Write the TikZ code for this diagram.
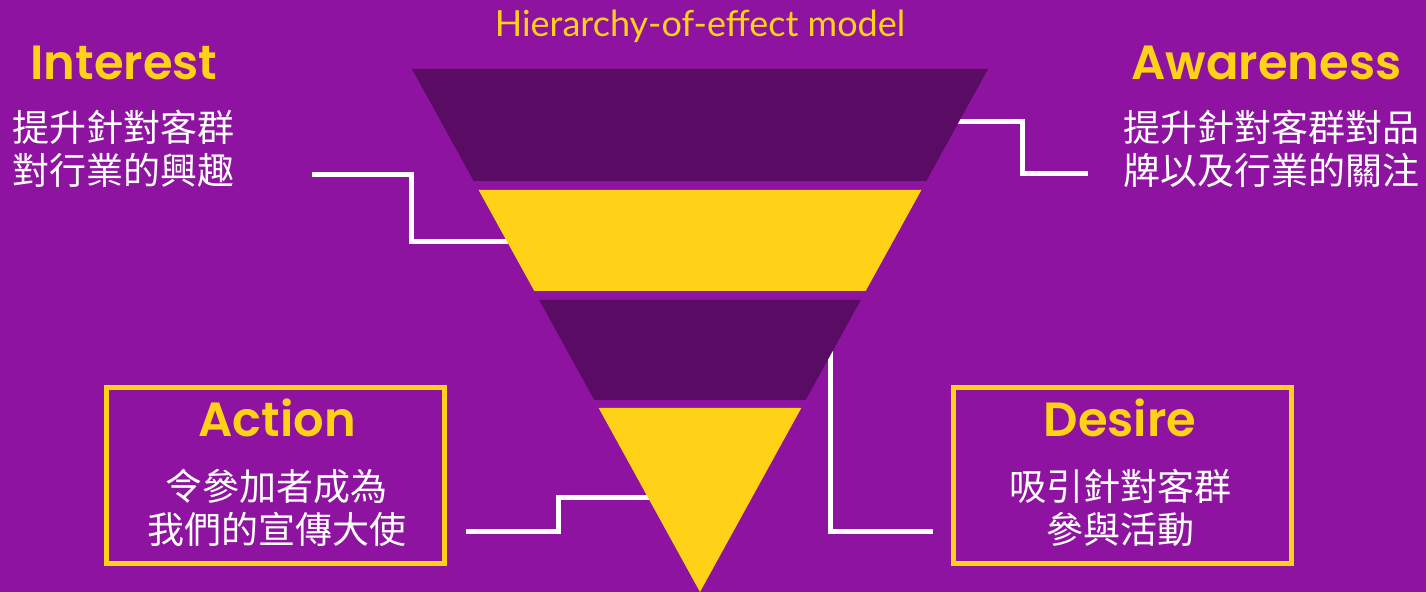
\documentclass[tikz,border=0pt]{standalone}
\usepackage{fontspec}
\setmainfont{Poppins}
\newfontfamily\cjk{Noto Sans CJK TC}
\newfontfamily\headfont{Poppins SemiBold}
\newfontfamily\titlefont{Lato}
\definecolor{bg}{HTML}{8E13A0}
\definecolor{darkband}{HTML}{5A0B64}
\definecolor{gold}{HTML}{FFD117}
\begin{document}
\begin{tikzpicture}[x=0.5pt,y=-0.5pt,
  head/.style={text=gold, font=\headfont\fontsize{24}{28}\selectfont, inner sep=0pt},
  body/.style={text=white, font=\cjk\fontsize{18.5}{21.5}\selectfont, inner sep=0pt},
  link/.style={white, line width=2.5pt},
  framebox/.style={draw=gold, line width=2.5pt, minimum width=169pt, minimum height=88pt, inner sep=0pt}]
\useasboundingbox[fill=bg] (0,0) rectangle (1426,592);
% connectors (behind funnel)
\coordinate (iA) at (312,175); \coordinate (iK) at (411,210); \coordinate (iB) at (515,242);
\coordinate (aA) at (950,122); \coordinate (aK) at (1022,150); \coordinate (aB) at (1088,174);
\coordinate (dA) at (830,338); \coordinate (dB) at (933,532);
\coordinate (cA) at (466,532); \coordinate (cK) at (558,515); \coordinate (cB) at (660,498);
\draw[link] (iA) -| (iK) |- (iB);
\draw[link] (aA) -| (aK) |- (aB);
\draw[link] (dA) |- (dB);
\draw[link] (cA) -| (cK) |- (cB);
% funnel
\fill[darkband] (412,69) -- (988,69) -- (926.3,181) -- (473.7,181) -- cycle;
\fill[gold] (478.6,190) -- (921.4,190) -- (865.7,291) -- (534.3,291) -- cycle;
\fill[darkband] (539.2,300) -- (860.8,300) -- (805.7,400) -- (594.3,400) -- cycle;
\fill[gold] (598.7,408) -- (801.3,408) -- (700,592) -- cycle;
% title
\node[text=gold, font=\titlefont\fontsize{18}{22}\selectfont, inner sep=0pt, anchor=base] (title) at (700,37) {Hierarchy-of-effect model};
% Interest
\node[head, anchor=base west] (interest) at (30,80) {Interest};
\node[body, anchor=west, align=left] (interesttext) at (12,148.5) {提升針對客群\\對行業的興趣};
% Awareness
\node[head, anchor=base east] (awareness) at (1402,80) {Awareness};
\node[body, anchor=east, align=left] (awarenesstext) at (1420,148.5) {提升針對客群對品\\牌以及行業的關注};
% Action
\node[framebox] (actionbox) at (275.5,476) {};
\node[head, anchor=base] (action) at (277,437) {Action};
\node[body, align=center] (actiontext) at (277,508) {令參加者成為\\我們的宣傳大使};
% Desire
\node[framebox] (desirebox) at (1122.5,476) {};
\node[head, anchor=base] (desire) at (1120,437) {Desire};
\node[body, align=center] (desiretext) at (1120,508) {吸引針對客群\\參與活動};
\end{tikzpicture}
\end{document}
